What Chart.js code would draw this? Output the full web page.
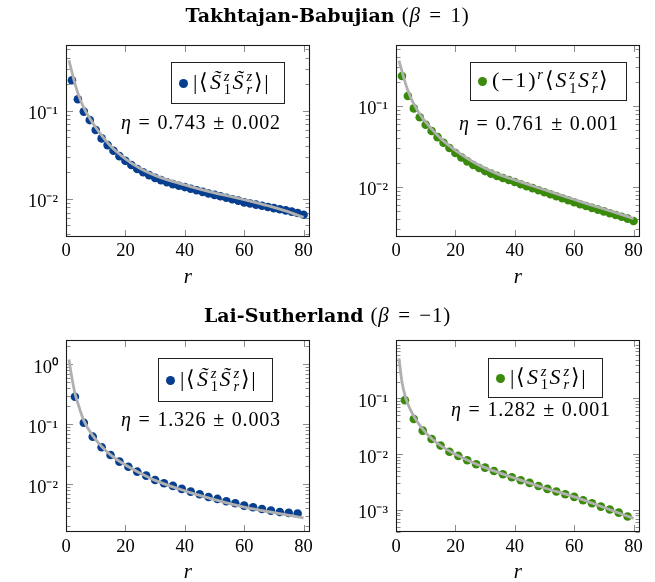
<!DOCTYPE html>
<html>
<head>
<meta charset="utf-8">
<script src="https://cdn.jsdelivr.net/npm/chart.js@4.4.1/dist/chart.umd.min.js"></script>
<style>
  html, body { margin:0; padding:0; }
  body { width:655px; height:582px; background:#fff; position:relative; overflow:hidden; font-family:'Liberation Serif', serif; color:#000; }
  canvas.pc { position:absolute; left:0; top:0; }
  .title { position:absolute; left:0; width:655px; text-align:center; font-size:21px; line-height:22px; white-space:nowrap; z-index:5; filter:grayscale(1); }
  .title b { font-family:'DejaVu Serif', serif; font-size:19px; font-weight:bold; margin-right:7px; }
  .title .tm { letter-spacing:0.8px; word-spacing:2.5px; }
  .leg { position:absolute; box-sizing:border-box; border:1px solid #222; background:#fff; display:flex; align-items:center; padding-left:7px; font-size:22px; line-height:22px; white-space:nowrap; z-index:5; }
  .dot { display:inline-block; width:9px; height:9px; border-radius:50%; margin-right:5px; flex:none; }
  .mt { filter:grayscale(1); letter-spacing:1.8px; }
  .ss { display:inline-flex; flex-direction:column; font-size:0.66em; line-height:0.92; vertical-align:0.55em; margin:0 1.5px 0 1px; letter-spacing:0; }
  .ss > * { display:block; }
  .eta { position:absolute; font-size:20px; line-height:20px; white-space:nowrap; letter-spacing:0.8px; word-spacing:1px; z-index:5; filter:grayscale(1); }
</style>
</head>
<body>
<canvas class="pc" id="cTL" width="655" height="640"></canvas>
<canvas class="pc" id="cTR" width="655" height="640"></canvas>
<canvas class="pc" id="cBL" width="655" height="640"></canvas>
<canvas class="pc" id="cBR" width="655" height="640"></canvas>

<div class="title" style="top:4px"><b>Takhtajan-Babujian</b><span class="tm">(<i>β</i> = 1)</span></div>
<div class="title" style="top:304px"><b>Lai-Sutherland</b><span class="tm">(<i>β</i> = −1)</span></div>

<div class="leg" style="left:171px;top:62px;width:114px;height:42px">
  <span class="dot" style="background:#063f8f"></span><span class="mt">|⟨<i>S̃</i><span class="ss"><i>z</i><span>1</span></span><i>S̃</i><span class="ss"><i>z</i><i>r</i></span>⟩|</span>
</div>
<div class="eta" style="left:121px;top:112px"><i>η</i> = 0.743 ± 0.002</div>

<div class="leg" style="left:470px;top:62px;width:157px;height:39px">
  <span class="dot" style="background:#3a8a0c"></span><span class="mt">(−1)<sup style="font-size:0.66em;line-height:0"><i>r</i></sup>⟨<i>S</i><span class="ss"><i>z</i><span>1</span></span><i>S</i><span class="ss"><i>z</i><i>r</i></span>⟩</span>
</div>
<div class="eta" style="left:459px;top:113px"><i>η</i> = 0.761 ± 0.001</div>

<div class="leg" style="left:158px;top:358px;width:115px;height:44px">
  <span class="dot" style="background:#063f8f"></span><span class="mt">|⟨<i>S̃</i><span class="ss"><i>z</i><span>1</span></span><i>S̃</i><span class="ss"><i>z</i><i>r</i></span>⟩|</span>
</div>
<div class="eta" style="left:121px;top:409px"><i>η</i> = 1.326 ± 0.003</div>

<div class="leg" style="left:488px;top:358px;width:115px;height:40px">
  <span class="dot" style="background:#3a8a0c"></span><span class="mt">|⟨<i>S</i><span class="ss"><i>z</i><span>1</span></span><i>S</i><span class="ss"><i>z</i><i>r</i></span>⟩|</span>
</div>
<div class="eta" style="left:451px;top:399px"><i>η</i> = 1.282 ± 0.001</div>

<script>
// ---------------- data ----------------
const xTickValues = [0, 20, 40, 60, 80];

// distances r of the plotted points
const rEven = [2,4,6,8,10,12,14,16,18,20,22,24,26,28,30,32,34,36,38,40,
               42,44,46,48,50,52,54,56,58,60,62,64,66,68,70,72,74,76,78,80];
const rEvery3 = [3,6,9,12,15,18,21,24,27,30,33,36,39,42,45,48,51,54,57,60,63,66,69,72,75,78];

// distances at which the fitted (gray) curves were read
const tbFitR = [1,2,3,4,5,6,8,10,12,15,20,25,30,35,40,45,50,55,60,65,70,75,80];
const lsFitR = [1,2,3,4,6,9,12,15,20,25,30,40,50,60,70,80];

// Takhtajan-Babujian, |<S~1z S~rz>|
const tbTildeVals = [0.222,0.135,0.0977,0.0783,0.0604,0.0485,0.0407,0.0351,0.0305,0.0270,
                     0.0242,0.0218,0.0200,0.0186,0.0173,0.0163,0.0154,0.0147,0.0141,0.0136,
                     0.0130,0.0125,0.0120,0.0115,0.0111,0.0107,0.0103,0.00991,0.00955,0.00912,
                     0.00885,0.00859,0.00834,0.00809,0.00785,0.00762,0.00740,0.00716,0.00692,0.00661];
const tbTildeFit = [0.372,0.275,0.204,0.158,0.129,0.108,0.0822,0.0646,0.0525,0.0398,0.0285,0.0221,
                    0.0184,0.0161,0.0144,0.0129,0.0117,0.0107,0.00977,0.00887,0.00800,0.00711,0.00617];

// Takhtajan-Babujian, (-1)^r <S1z Srz>
const tbStagVals = [0.234,0.133,0.0933,0.0724,0.0586,0.0490,0.0412,0.0351,0.0302,0.0263,
                    0.0232,0.0207,0.0187,0.0171,0.0157,0.0146,0.0137,0.0129,0.0122,0.0115,
                    0.0108,0.0102,0.00966,0.00912,0.00861,0.00813,0.00767,0.00724,0.00684,0.00646,
                    0.00612,0.00581,0.00552,0.00525,0.00499,0.00474,0.00451,0.00429,0.00406,0.00380];
const tbStagFit = [0.363,0.269,0.200,0.155,0.126,0.106,0.0794,0.0631,0.0519,0.0398,0.0282,0.0214,
                   0.0170,0.0141,0.0122,0.0106,0.00923,0.00804,0.00700,0.00610,0.00535,0.00468,0.00407];

// Lai-Sutherland, |<S~1z S~rz>|
const lsTildeVals = [0.288,0.106,0.0621,0.0414,0.0308,0.0238,0.0196,0.0162,0.0139,0.0118,
                     0.0104,0.00938,0.00836,0.00753,0.00681,0.00614,0.00569,0.00521,0.00482,0.00440,
                     0.00414,0.00387,0.00363,0.00345,0.00333,0.00324];
const lsTildeFit = [1.20,0.589,0.331,0.224,0.115,0.0646,0.0427,0.0309,0.0209,0.0153,0.0116,
                    0.00776,0.00556,0.00417,0.00335,0.00275];

// Lai-Sutherland, |<S1z Srz>|
const lsZZVals = [0.0933,0.0430,0.0265,0.0188,0.0143,0.0111,0.00933,0.00780,0.00661,0.00575,
                  0.00501,0.00439,0.00387,0.00342,0.00306,0.00270,0.00239,0.00214,0.00192,0.00172,
                  0.00150,0.00132,0.00115,0.00102,0.000897,0.000762];
const lsZZFit = [0.525,0.200,0.115,0.0794,0.0479,0.0282,0.0191,0.0143,0.0100,0.00741,0.00575,
                 0.00372,0.00248,0.00172,0.00111,0.000708];

// y-axis decade ticks and labels for each panel
const yTicksTL = [0.1, 0.01];
const yTicksTR = [0.1, 0.01];
const yTicksBL = [1, 0.1, 0.01];
const yTicksBR = [0.1, 0.01, 0.001];
const decadeLabels = { '1':'10⁰', '0.1':'10⁻¹', '0.01':'10⁻²', '0.001':'10⁻³' };

// y ranges of the four panels
const yRangeTL = [0.00372, 0.564];
const yRangeTR = [0.00243, 0.574];
const yRangeBL = [0.00158, 2.54];
const yRangeBR = [0.000398, 1.12];

// ---------------- drawing ----------------
const BLUE = '#063f8f', GREEN = '#3a8a0c', FITGRAY = '#b0b0b0';
const CANVAS_W = 655, CANVAS_H = 640, XAXIS_H = 53;

const axisFrame = {
  id: 'axisFrame',
  beforeDatasetsDraw(chart) {
    const { ctx, chartArea: a, scales: { x, y } } = chart;
    const L = Math.round(a.left) + 0.5, R = Math.round(a.right) - 0.5;
    const T = Math.round(a.top) + 0.5, B = Math.round(a.bottom) - 0.5;
    ctx.save();
    ctx.lineWidth = 1;
    ctx.strokeStyle = '#8c8c8c';
    ctx.beginPath();
    x.ticks.forEach(t => {
      const px = Math.round(x.getPixelForValue(t.value)) + 0.5;
      ctx.moveTo(px, B); ctx.lineTo(px, B - 6.5);
      ctx.moveTo(px, T); ctx.lineTo(px, T + 6.5);
    });
    y.ticks.forEach(t => {
      const py = Math.round(y.getPixelForValue(t.value)) + 0.5;
      ctx.moveTo(L, py); ctx.lineTo(L + 6.5, py);
      ctx.moveTo(R, py); ctx.lineTo(R - 6.5, py);
    });
    const lo = Math.floor(Math.log10(y.min)), hi = Math.ceil(Math.log10(y.max));
    for (let d = lo; d <= hi; d++) {
      for (let k = 2; k <= 9; k++) {
        const v = k * Math.pow(10, d);
        if (v <= y.min || v >= y.max) continue;
        const py = Math.round(y.getPixelForValue(v)) + 0.5;
        ctx.moveTo(L, py); ctx.lineTo(L + 4, py);
        ctx.moveTo(R, py); ctx.lineTo(R - 4, py);
      }
    }
    ctx.stroke();
    ctx.strokeStyle = '#1a1a1a';
    ctx.lineWidth = 1.1;
    ctx.strokeRect(L, T, R - L, B - T);
    ctx.restore();
  }
};

function makePanel(id, area, yRange, yTicks, ptR, ptV, fitR, fitV, color) {
  const tickFont = { family: "'Liberation Serif', serif", size: 18.5 };
  new Chart(document.getElementById(id), {
    type: 'scatter',
    data: {
      datasets: [
        {
          type: 'line',
          data: fitR.map((r, i) => ({ x: r, y: fitV[i] })),
          borderColor: FITGRAY, borderWidth: 2.8, pointRadius: 0,
          cubicInterpolationMode: 'monotone', fill: false, order: 0
        },
        {
          type: 'scatter',
          data: ptR.map((r, i) => ({ x: r, y: ptV[i] })),
          backgroundColor: color, borderColor: color, borderWidth: 0,
          pointRadius: 4.3, order: 1
        }
      ]
    },
    options: {
      responsive: false, animation: false, events: [],
      layout: { padding: { left: 0, top: area.top, right: CANVAS_W - area.right, bottom: CANVAS_H - area.bottom - XAXIS_H } },
      plugins: { legend: { display: false }, tooltip: { enabled: false } },
      scales: {
        x: {
          type: 'linear', min: 0, max: 82,
          afterBuildTicks: s => { s.ticks = xTickValues.map(v => ({ value: v })); },
          afterFit: s => { s.height = XAXIS_H; },
          grid: { display: false, drawTicks: false },
          border: { display: false },
          ticks: { font: tickFont, color: '#000', padding: 3.5, maxRotation: 0, autoSkip: false },
          title: { display: true, text: 'r', color: '#000', padding: 0,
                   font: { family: "'Liberation Serif', serif", size: 21, style: 'italic' } }
        },
        y: {
          type: 'logarithmic', min: yRange[0], max: yRange[1],
          afterBuildTicks: s => { s.ticks = yTicks.map(v => ({ value: v })); },
          afterFit: s => { s.width = area.left; },
          grid: { display: false, drawTicks: false },
          border: { display: false },
          ticks: { font: tickFont, color: '#000', padding: 8, labelOffset: 3.5, autoSkip: false,
                   callback: v => decadeLabels[String(v)] || '' }
        }
      }
    },
    plugins: [axisFrame]
  });
}

makePanel('cTL', { left: 66, right: 309.5, top: 44.5, bottom: 236.7 }, yRangeTL, yTicksTL, rEven, tbTildeVals, tbFitR, tbTildeFit, BLUE);
makePanel('cTR', { left: 396, right: 639.5, top: 44.5, bottom: 236.7 }, yRangeTR, yTicksTR, rEven, tbStagVals, tbFitR, tbStagFit, GREEN);
makePanel('cBL', { left: 66, right: 309.5, top: 340, bottom: 532.3 }, yRangeBL, yTicksBL, rEvery3, lsTildeVals, lsFitR, lsTildeFit, BLUE);
makePanel('cBR', { left: 396, right: 639.5, top: 340, bottom: 532.3 }, yRangeBR, yTicksBR, rEvery3, lsZZVals, lsFitR, lsZZFit, GREEN);
</script>
</body>
</html>
